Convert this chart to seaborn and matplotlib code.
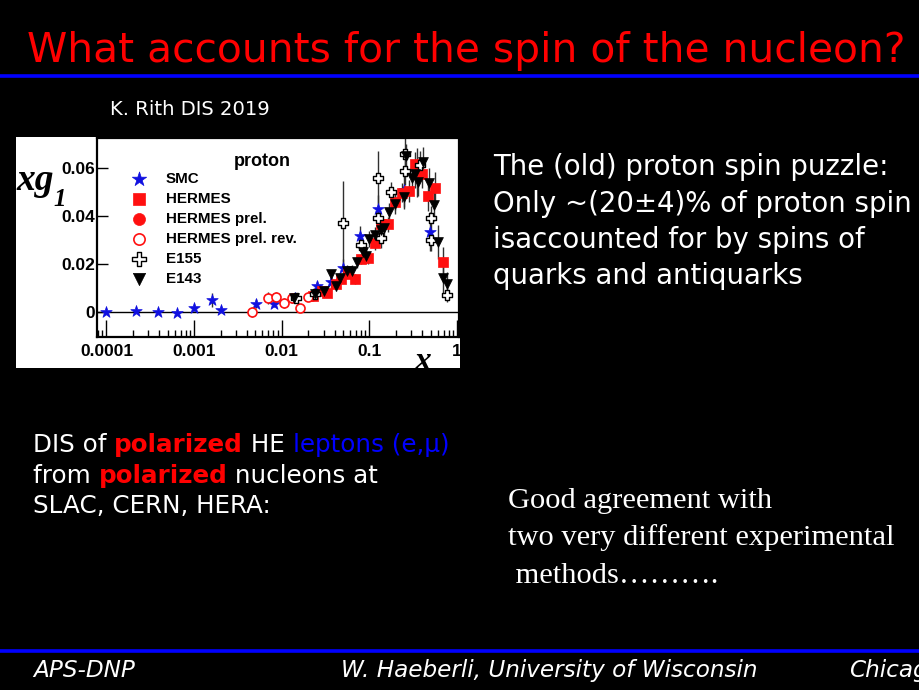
import numpy as np
import pandas as pd
import matplotlib
matplotlib.use("Agg")
import matplotlib.pyplot as plt
import seaborn as sns
from matplotlib.patches import Rectangle
from matplotlib.lines import Line2D
from matplotlib.ticker import FixedLocator, FuncFormatter, LogLocator, NullFormatter

# ---------------- data ----------------
smc_x = [1.0e-4, 2.2e-4, 3.9e-4, 6.3e-4, 1.0e-3, 1.6e-3, 2.0e-3, 5.1e-3, 8.2e-3, 0.014,
         0.025, 0.036, 0.050, 0.079, 0.124, 0.246, 0.35, 0.488]
smc_y = [0.0000, 0.0006, 0.0000, -0.0005, 0.0018, 0.0050, 0.0011, 0.0035, 0.0035, 0.0060,
         0.0108, 0.0126, 0.0184, 0.0316, 0.0428, 0.0507, 0.0580, 0.0334]
smc_e = [0.0004, 0.0005, 0.0005, 0.0006, 0.0012, 0.0028, 0.0010, 0.0018, 0.0015, 0.0020,
         0.0022, 0.0025, 0.0035, 0.0040, 0.0060, 0.0080, 0.0100, 0.0080]

hermes_x = [0.0226, 0.0286, 0.033, 0.041, 0.0475, 0.0566, 0.0687, 0.080, 0.0957, 0.117,
            0.136, 0.162, 0.198, 0.234, 0.281, 0.329, 0.395, 0.463, 0.561, 0.687]
hermes_y = [0.0067, 0.0090, 0.0080, 0.0118, 0.0137, 0.0160, 0.0137, 0.0220, 0.0226, 0.0286,
            0.0365, 0.0365, 0.0459, 0.0496, 0.0503, 0.0614, 0.0572, 0.0482, 0.0517, 0.0209]
hermes_e = [0.0010, 0.0012, 0.0013, 0.0015, 0.0016, 0.0018, 0.0020, 0.0022, 0.0024, 0.0028,
            0.0030, 0.0032, 0.0036, 0.0040, 0.0045, 0.0050, 0.0055, 0.0060, 0.0065, 0.0060]

hprel_x = [0.0222]
hprel_y = [0.0068]
hprel_e = [0.0010]

hrev_x = [0.0046, 0.0069, 0.0087, 0.0107, 0.0131, 0.0162, 0.0198]
hrev_y = [0.0000, 0.0057, 0.0061, 0.0037, 0.0058, 0.0017, 0.0061]
hrev_e = [0.0022, 0.0025, 0.0022, 0.0020, 0.0018, 0.0016, 0.0015]

e155_x = [0.0145, 0.024, 0.050, 0.081, 0.126, 0.126, 0.136, 0.178, 0.257, 0.257,
          0.375, 0.509, 0.509, 0.77]
e155_y = [0.0057, 0.0074, 0.0369, 0.0279, 0.0559, 0.0390, 0.0306, 0.0500, 0.0656, 0.0586,
          0.0610, 0.0392, 0.0299, 0.0071]
e155_e = [0.0015, 0.0012, 0.0175, 0.0030, 0.0110, 0.0050, 0.0040, 0.0040, 0.0080, 0.0060,
          0.0060, 0.0050, 0.0045, 0.0030]

e143_x = [0.0137, 0.024, 0.030, 0.036, 0.041, 0.046, 0.0556, 0.064, 0.072, 0.084,
          0.092, 0.100, 0.117, 0.134, 0.146, 0.166, 0.198, 0.246, 0.26, 0.307,
          0.33, 0.36, 0.41, 0.48, 0.54, 0.61, 0.69, 0.77]
e143_y = [0.0057, 0.0075, 0.0087, 0.0157, 0.0110, 0.0140, 0.0170, 0.0170, 0.0209, 0.0248,
          0.0234, 0.0303, 0.0320, 0.0340, 0.0350, 0.0414, 0.0448, 0.0480, 0.0650, 0.0556,
          0.0572, 0.0542, 0.0625, 0.0535, 0.0445, 0.0292, 0.0140, 0.0116]
e143_e = [0.0015, 0.0015, 0.0018, 0.0020, 0.0020, 0.0022, 0.0024, 0.0025, 0.0027, 0.0028,
          0.0030, 0.0032, 0.0034, 0.0036, 0.0038, 0.0040, 0.0042, 0.0045, 0.0050, 0.0055,
          0.0058, 0.0060, 0.0062, 0.0065, 0.0068, 0.0070, 0.0060, 0.0050]

x_ticks = [1e-4, 1e-3, 1e-2, 1e-1, 1.0]
x_tick_labels = ["0.0001", "0.001", "0.01", "0.1", ""]
y_ticks = [0.0, 0.02, 0.04, 0.06]
y_tick_labels = ["0", "0.02", "0.04", "0.06"]

title = "What accounts for the spin of the nucleon?"
right_lines = ["The (old) proton spin puzzle:",
               "Only ~(20\u00b14)% of proton spin",
               "isaccounted for by spins of",
               "quarks and antiquarks"]
serif_lines = ["Good agreement with",
               "two very different experimental",
               " methods\u2026\u2026\u2026."]

# ---------------- figure ----------------
sns.set_theme(style="white")
plt.rcParams['font.family'] = ['DejaVu Sans']
W, H = 920, 690
fig = plt.figure(figsize=(9.2, 6.9), dpi=100, facecolor='black')

def fx(px):
    return px / W

def fy(py):
    return 1 - py / H

fig.canvas.draw()
rend = fig.canvas.get_renderer()

def width_of(txt, fs, **kw):
    t = fig.text(0, 0, txt, fontsize=fs, **kw)
    w = t.get_window_extent(rend).width
    t.remove()
    return w

def fit(t, target_w):
    w = t.get_window_extent(rend).width
    t.set_fontsize(t.get_fontsize() * target_w / w)
    return t

# blue rules
for yy in (76, 651):
    fig.add_artist(Line2D([0, 1], [fy(yy)] * 2, color='#0000FF', lw=2.6,
                          transform=fig.transFigure))

# title
t = fig.text(fx(27), fy(62), title, color='#FF0000', fontsize=30,
             va='baseline', ha='left', family='DejaVu Sans')
fit(t, 878)

# K. Rith
t = fig.text(fx(110), fy(115), "K. Rith DIS 2019", color='white', fontsize=12,
             va='baseline', ha='left')
fit(t, 160)

# right text (size so that the widest line fits 493..915)
wmax = max(width_of(l, 20) for l in right_lines)
fs_r = 20 * 420 / wmax
for line, yy in zip(right_lines, [175, 211.7, 248.3, 284.0]):
    fig.text(fx(493), fy(yy), line, color='white', fontsize=fs_r, va='baseline', ha='left')

# left multi-colored text
probe = fig.text(0, 0, "DIS of polarized HE leptons (e,\u03bc)", fontsize=16)
fit(probe, 402)
fs_l = probe.get_fontsize()
probe.remove()

def draw_runs(x0, ybase, runs, fs):
    x = x0
    for txt, col, wt in runs:
        fig.text(fx(x), fy(ybase), txt, color=col, fontsize=fs, fontweight=wt,
                 va='baseline', ha='left')
        x += width_of(txt + "|", fs, fontweight=wt) - width_of("|", fs, fontweight=wt)

draw_runs(33, 452, [("DIS of ", 'white', 'normal'), ("polarized", '#FF0000', 'bold'),
                    (" HE ", 'white', 'normal'), ("leptons (e,\u03bc)", '#0000FF', 'normal')], fs_l)
draw_runs(33, 483, [("from ", 'white', 'normal'), ("polarized", '#FF0000', 'bold'),
                    (" nucleons at", 'white', 'normal')], fs_l)
draw_runs(33, 513, [("SLAC, CERN, HERA:", 'white', 'normal')], fs_l)

# serif text
ref = fig.text(fx(508), fy(545), serif_lines[1], color='white', fontsize=20,
               va='baseline', ha='left', family='Liberation Serif')
fit(ref, 387)
fs_s = ref.get_fontsize()
fig.text(fx(508), fy(508), serif_lines[0], color='white', fontsize=fs_s,
         va='baseline', ha='left', family='Liberation Serif')
fig.text(fx(508), fy(583), serif_lines[2], color='white', fontsize=fs_s,
         va='baseline', ha='left', family='Liberation Serif')

# footer
ref = fig.text(fx(341), fy(677), "W. Haeberli, University of Wisconsin", color='white',
               fontsize=13, va='baseline', ha='left', style='italic')
fit(ref, 416)
fs_f = ref.get_fontsize()
fig.text(fx(33), fy(677), "APS-DNP", color='white', fontsize=fs_f, va='baseline',
         ha='left', style='italic')
fig.text(fx(849), fy(677), "Chicago", color='white', fontsize=fs_f, va='baseline',
         ha='left', style='italic')

# ---------------- inset plot ----------------
bg = Rectangle((fx(16), fy(368)), (460 - 16) / W, (368 - 137) / H, transform=fig.transFigure,
               facecolor='white', edgecolor='none', zorder=-5)
fig.add_artist(bg)

ax = fig.add_axes([fx(97), fy(337), (459 - 97) / W, (337 - 138) / H])
ax.set_facecolor('white')
ax.set_xscale('log')
ax.set_xlim(7.8e-5, 1.05)
ax.set_ylim(-0.0103, 0.0723)
ax.axhline(0, color='black', lw=1.0, zorder=1)

series = [
    ("SMC", smc_x, smc_y, smc_e, dict(marker='*', s=75, color='#1010E0', facecolor='#1010E0', edgecolor='#1010E0', linewidth=0.5)),
    ("HERMES", hermes_x, hermes_y, hermes_e, dict(marker='s', s=46, color='#FF1010', facecolor='#FF1010', edgecolor='#FF1010', linewidth=0.5)),
    ("HERMES prel.", hprel_x, hprel_y, hprel_e, dict(marker='o', s=48, color='#FF1010', facecolor='#FF1010', edgecolor='#FF1010', linewidth=0.5)),
    ("HERMES prel. rev.", hrev_x, hrev_y, hrev_e, dict(marker='o', s=42, color='#FF1010', facecolor='white', edgecolor='#FF1010', linewidth=1.2)),
    ("E155", e155_x, e155_y, e155_e, dict(marker='P', s=62, color='black', facecolor='white', edgecolor='black', linewidth=1.0)),
    ("E143", e143_x, e143_y, e143_e, dict(marker='v', s=50, color='black', facecolor='black', edgecolor='black', linewidth=0.5)),
]

for name, xs, ys, es, kw in series:
    ax.errorbar(xs, ys, yerr=es, fmt='none', ecolor='#303030', elinewidth=1.0, zorder=2)
order = [5, 4, 1, 3, 2, 0]
handles = {}
for i in order:
    name, xs, ys, es, kw = series[i]
    df = pd.DataFrame({"x": xs, "y": ys})
    sns.scatterplot(data=df, x="x", y="y", ax=ax, label=name, zorder=3 + i, legend=False, **kw)
    handles[name] = ax.collections[-1]

leg = ax.legend([handles[s[0]] for s in series], [s[0] for s in series],
                loc='upper left', bbox_to_anchor=((131 - 97) / 362, (337 - 172) / 199),
                frameon=False, borderpad=0, borderaxespad=0, handlelength=1.0,
                handletextpad=1.3, labelspacing=0.40, markerscale=1.25,
                prop=dict(family='Liberation Sans', weight='bold', size=10.9))
for txt in leg.get_texts():
    txt.set_color('black')

ax.text(0.456, 0.88, "proton", transform=ax.transAxes, ha='center', va='center',
        fontsize=13, fontweight='bold', family='Liberation Sans', color='black')

# axes styling
for sp in ax.spines.values():
    sp.set_visible(True)
    sp.set_color('black')
    sp.set_linewidth(1.6)
ax.xaxis.set_major_locator(FixedLocator(x_ticks))
ax.xaxis.set_major_formatter(FuncFormatter(lambda v, p: x_tick_labels[x_ticks.index(v)] if v in x_ticks else ""))
ax.xaxis.set_minor_locator(LogLocator(base=10, subs=np.arange(2, 10)))
ax.xaxis.set_minor_formatter(NullFormatter())
ax.yaxis.set_major_locator(FixedLocator(y_ticks))
ax.yaxis.set_major_formatter(FuncFormatter(lambda v, p: y_tick_labels[y_ticks.index(v)] if v in y_ticks else ""))
ax.tick_params(axis='x', which='major', direction='in', length=12, width=1.0, color='black',
               bottom=True, top=False, pad=5, labelsize=12.5, labelcolor='black')
ax.tick_params(axis='x', which='minor', direction='in', length=5, width=1.0, color='black',
               bottom=True, top=False)
ax.tick_params(axis='y', which='major', direction='in', length=8, width=1.0, color='black',
               left=True, right=False, pad=1.5, labelsize=12.5, labelcolor='black')
for lab in ax.get_xticklabels() + ax.get_yticklabels():
    lab.set_fontweight('bold')
    lab.set_family('Liberation Sans')
ax.set_xlabel("")
ax.set_ylabel("")
ax.grid(False)

# '1' tick label and x label, clipped by the inset image edge
t1 = ax.text(1.0, -0.035, "1", transform=ax.get_xaxis_transform(), ha='center', va='top',
             fontsize=12.5, fontweight='bold', family='Liberation Sans', color='black')
t1.set_clip_path(bg)
tx = fig.text(fx(423), fy(370), "x", ha='center', va='baseline', fontsize=24,
              fontweight='bold', style='italic', family='Liberation Serif', color='black')
tx.set_clip_path(bg)
fig.text(fx(16), fy(190), "xg", ha='left', va='baseline', fontsize=27,
         fontweight='bold', style='italic', family='Liberation Serif', color='black')
fig.text(fx(53), fy(206), "1", ha='left', va='baseline', fontsize=18,
         fontweight='bold', style='italic', family='Liberation Serif', color='black')

fig.savefig("out.png", dpi=100, facecolor='black')
